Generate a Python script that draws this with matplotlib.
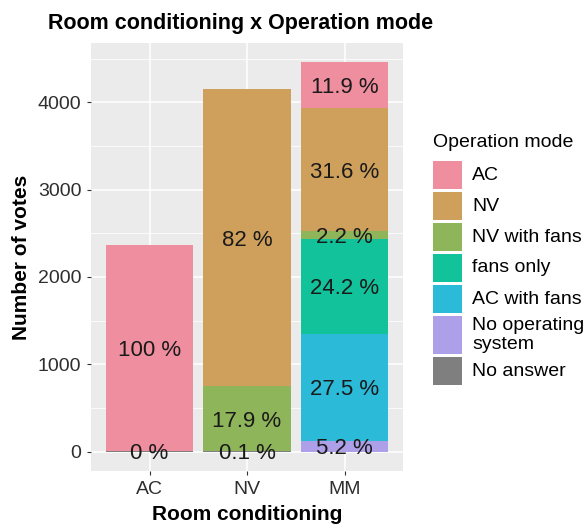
import numpy as np
import matplotlib
matplotlib.use('Agg')
import matplotlib.pyplot as plt
from matplotlib.patches import Rectangle

plt.rcParams['font.family'] = ['Liberation Sans', 'DejaVu Sans']

# data: votes per room conditioning, stacked by operation mode
rooms = ['AC', 'NV', 'MM']
modes = ['AC', 'NV', 'NV with fans', 'fans only', 'AC with fans',
         'No operating\nsystem', 'No answer']
colors = ['#EE8E9E', '#CFA05C', '#8FB55A', '#12C29B', '#2BBBD8',
          '#AD9FE8', '#7F7F7F']

votes_AC = [2366, 0, 0, 0, 0, 0, 5]
votes_NV = [0, 3402, 743, 0, 0, 0, 4]
votes_MM = [527, 1405, 90, 1085, 1225, 125, 0]

labels_AC = ['100 %', '', '', '', '', '', '0 %']
labels_NV = ['', '82 %', '17.9 %', '', '', '', '0.1 %']
labels_MM = ['11.9 %', '31.6 %', '2.2 %', '24.2 %', '27.5 %', '5.2 %', '']

counts = np.array([votes_AC, votes_NV, votes_MM], dtype=float)  # rooms x modes
labels = [labels_AC, labels_NV, labels_MM]

W, H = 585, 525
fig = plt.figure(figsize=(W / 100, H / 100), dpi=100)
ax = fig.add_axes([91 / W, 1 - 471 / H, 312 / W, 428 / H])
ax.set_facecolor('#EBEBEB')

x = np.arange(1, len(rooms) + 1)
bottom = np.zeros(len(rooms))
# ggplot stacks the last level at the bottom
for j in reversed(range(len(modes))):
    vals = counts[:, j]
    ax.bar(x, vals, 0.9, bottom=bottom, color=colors[j], linewidth=0, zorder=2)
    for i in range(len(rooms)):
        if labels[i][j]:
            ax.text(x[i], bottom[i] + vals[i] / 2, labels[i][j], ha='center',
                    va='center_baseline', fontsize=16, color='#1A1A1A',
                    zorder=3)
    bottom += vals

top = counts.sum(axis=1).max()
ax.set_xlim(0.4, len(rooms) + 0.6)
ax.set_ylim(-0.05 * top, 1.05 * top)
ax.set_yticks([0, 1000, 2000, 3000, 4000])
ax.set_yticks([500, 1500, 2500, 3500, 4500], minor=True)
ax.set_xticks(x)
ax.set_xticklabels(rooms)
ax.grid(True, which='major', color='white', lw=1.1, zorder=0)
ax.grid(True, which='minor', axis='y', color='white', lw=0.55, zorder=0)
ax.set_axisbelow(True)
for s in ax.spines.values():
    s.set_visible(False)
ax.tick_params(which='major', length=3, width=0.8, color='#333333',
               labelsize=14, labelcolor='#2E2E2E', pad=4)
ax.tick_params(which='minor', length=0)

ax.set_xlabel('Room conditioning', fontsize=15, fontweight='bold')
ax.set_ylabel('Number of votes', fontsize=15, fontweight='bold')
ax.xaxis.set_label_coords(0.5, -(515 - 471) / 428)
ax.xaxis.label.set_va('center')
ax.yaxis.set_label_coords(-(91 - 22) / 312, 0.5)
ax.yaxis.label.set_va('center')

fig.text(241 / W, 1 - 23 / H, 'Room conditioning x Operation mode',
         ha='center', va='center', fontsize=15.5, fontweight='bold')

# legend drawn by hand, ggplot style
fig.text(433 / W, 1 - 142 / H, 'Operation mode', ha='left', va='center',
         fontsize=14)
key_top = [161, 192, 223, 254, 285, 316, 357]
key_h = [28, 28, 28, 28, 28, 38, 28]
for j, m in enumerate(modes):
    y0 = 1 - (key_top[j] + key_h[j]) / H
    fig.add_artist(Rectangle((433 / W, y0), 29 / W, key_h[j] / H,
                             transform=fig.transFigure, color=colors[j],
                             linewidth=0))
    fig.text(472 / W, y0 + key_h[j] / 2 / H, m, ha='left', va='center',
             fontsize=14, linespacing=1.1)

fig.savefig('out.png', dpi=100)
